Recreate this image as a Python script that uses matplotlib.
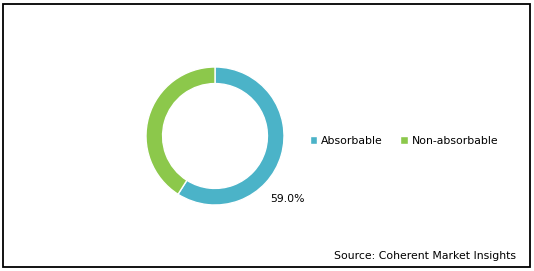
import matplotlib.pyplot as plt
from matplotlib.patches import Rectangle

categories = ["Absorbable", "Non-absorbable"]
shares = [59.0, 41.0]
colors = ["#4BB3C8", "#8CC84B"]
source_text = "Source: Coherent Market Insights"

W, H = 534, 271
fig = plt.figure(figsize=(W / 100, H / 100), dpi=100)

# outer frame
fig.patches.append(Rectangle((3 / W, 1 - 267 / H), 527 / W, 263 / H,
                             transform=fig.transFigure, fill=False,
                             edgecolor="black", linewidth=1.3))

# donut
ax = fig.add_axes([146 / W, 1 - 205 / H, 138 / W, 138 / H])
wedges, _ = ax.pie(shares, colors=colors, startangle=90, counterclock=False,
                   radius=1.0, wedgeprops=dict(width=0.24, edgecolor="white", linewidth=1))
ax.set_xlim(-1, 1)
ax.set_ylim(-1, 1)
ax.set_aspect("equal")
ax.axis("off")

fig.text(287 / W, 1 - 199 / H, f"{shares[0]:.1f}%", ha="center", va="center", fontsize=7.8)

# legend
fig.legend(wedges, categories, loc="center left", bbox_to_anchor=(300 / W, 1 - 141 / H),
           ncol=2, frameon=False, fontsize=7.8, handlelength=0.7, handleheight=0.7,
           handletextpad=0.35, columnspacing=1.6)

fig.text(516 / W, 1 - 256 / H, source_text, ha="right", va="center", fontsize=7.8)

fig.savefig("out.png", dpi=100)
